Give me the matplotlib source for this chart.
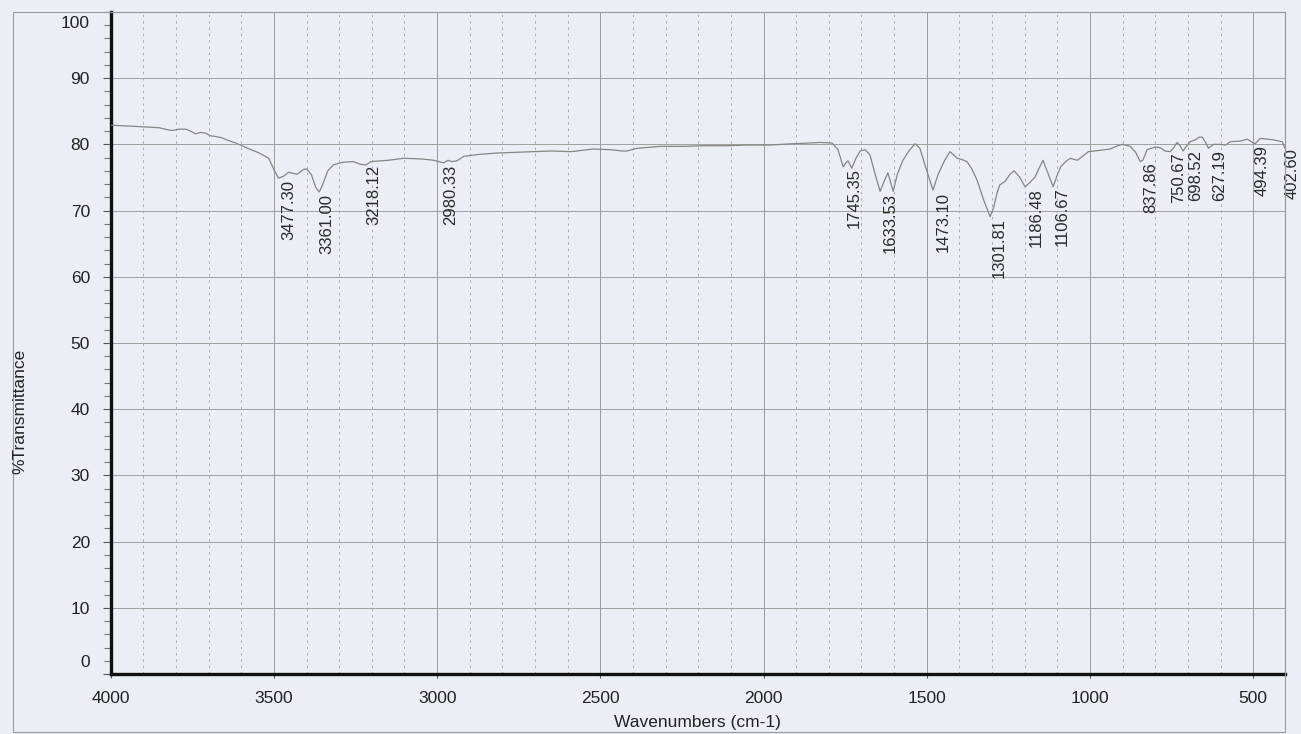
import matplotlib

matplotlib.use('Agg')
import matplotlib.pyplot as plt
from matplotlib.transforms import ScaledTranslation
from matplotlib.patches import Rectangle

plt.rcParams['font.family'] = ['Liberation Sans', 'DejaVu Sans']

# spectrum (wavenumber cm-1, %T)
wavenumbers = [
    4000, 3960, 3914, 3880, 3850, 3825, 3810, 3790, 3770, 3755, 3740, 3725, 3709, 3695,
    3679, 3660, 3640, 3617, 3580, 3545, 3516, 3500, 3486, 3470, 3455, 3440, 3428, 3410,
    3400, 3385, 3372, 3361, 3350, 3335, 3318, 3290, 3257, 3235, 3218, 3203, 3150, 3102,
    3050, 3010, 2995, 2980, 2967, 2955, 2940, 2918, 2870, 2814, 2760, 2704, 2650, 2590,
    2522, 2470, 2432, 2418, 2395, 2388, 2317, 2250, 2180, 2112, 2050, 1980, 1910, 1860,
    1827, 1790, 1772, 1756, 1748, 1741, 1730, 1718, 1704, 1689, 1674, 1660, 1643, 1630,
    1619, 1612, 1603, 1590, 1573, 1555, 1536, 1521, 1505, 1481, 1465, 1445, 1429, 1415,
    1407, 1392, 1377, 1362, 1346, 1325, 1306, 1295, 1284, 1276, 1260, 1245, 1232, 1215,
    1199, 1185, 1168, 1155, 1144, 1130, 1113, 1100, 1090, 1075, 1060, 1039, 1020, 1005,
    970, 938, 915, 901, 877, 860, 846, 838, 825, 800, 785, 770, 755, 745, 733, 724, 715,
    705, 693, 677, 665, 656, 645, 637, 622, 601, 585, 570, 539, 518, 500, 494, 478, 440,
    411, 402.6,
]
transmittance = [
    82.9, 82.8, 82.7, 82.6, 82.5, 82.2, 82.1, 82.3, 82.3, 82.0, 81.6, 81.8, 81.7, 81.3,
    81.2, 81.0, 80.6, 80.2, 79.4, 78.7, 77.9, 76.2, 74.9, 75.2, 75.8, 75.6, 75.5, 76.2,
    76.3, 75.4, 73.5, 72.8, 74.0, 76.0, 76.9, 77.3, 77.4, 77.0, 76.9, 77.4, 77.6, 77.9,
    77.8, 77.6, 77.4, 77.2, 77.6, 77.4, 77.5, 78.2, 78.5, 78.7, 78.8, 78.9, 79.0, 78.9,
    79.3, 79.2, 79.0, 79.0, 79.3, 79.4, 79.7, 79.7, 79.8, 79.8, 79.9, 79.9, 80.1, 80.2,
    80.3, 80.2, 79.2, 76.6, 77.2, 77.5, 76.4, 77.8, 79.0, 79.2, 78.4, 75.8, 72.9, 74.5,
    75.7, 74.5, 72.9, 75.5, 77.6, 79.0, 80.1, 79.4, 76.8, 73.1, 75.5, 77.6, 78.9, 78.3,
    77.9, 77.7, 77.4, 76.3, 74.6, 71.5, 69.1, 70.5, 72.8, 73.9, 74.4, 75.5, 76.0, 75.0,
    73.6, 74.2, 75.1, 76.5, 77.6, 75.8, 73.6, 75.4, 76.6, 77.4, 77.9, 77.6, 78.3, 78.9,
    79.1, 79.3, 79.8, 80.0, 79.7, 78.8, 77.4, 77.6, 79.2, 79.6, 79.5, 79.0, 78.9, 79.4,
    80.3, 79.8, 79.0, 79.7, 80.4, 80.7, 81.1, 81.1, 80.2, 79.4, 80.0, 80.0, 79.9, 80.4,
    80.5, 80.8, 80.2, 80.1, 80.9, 80.7, 80.4, 79.4,
]

# peak picks and where their labels start
peak_wn = [3477.30, 3361.00, 3218.12, 2980.33, 1745.35, 1633.53, 1473.10, 1301.81,
           1186.48, 1106.67, 837.86, 750.67, 698.52, 627.19, 494.39, 402.60]
peak_label_y = [74.6, 72.5, 76.9, 76.9, 76.4, 72.7, 72.8, 68.9,
                73.4, 73.5, 77.3, 78.8, 79.1, 79.1, 79.9, 79.4]

x_major = [4000, 3500, 3000, 2500, 2000, 1500, 1000, 500]
x_minor = [w for w in range(3900, 400, -100) if w % 500 != 0]
y_major = [0, 10, 20, 30, 40, 50, 60, 70, 80, 90, 100]
y_minor = list(range(0, 101, 2))

paper = '#eceef6'
fig = plt.figure(figsize=(13.01, 7.34), dpi=100, facecolor=paper)
ax = fig.add_axes([0.0851, 0.0817, 0.9026, 0.902])
ax.set_facecolor(paper)

# outer frame of the printout
fig.patches.append(Rectangle((0.010, 0.003), 0.9777, 0.981, transform=fig.transFigure,
                             fill=False, edgecolor='#9a9a9a', linewidth=0.8))

for w in x_major:
    ax.axvline(w, color='#9a9a9a', linewidth=0.7, zorder=1)
for w in x_minor:
    ax.axvline(w, color='#a8a8a8', linewidth=0.7, linestyle=(0, (2.5, 4)), zorder=1)
for t in y_major[1:]:
    ax.axhline(t, color='#a0a0a0', linewidth=0.7, zorder=1)

ax.plot(wavenumbers, transmittance, color='#858585', linewidth=0.9, zorder=3)

for w, t in zip(peak_wn, peak_label_y):
    ax.text(w, t, f'{w:.2f}', rotation=90, ha='left', va='top', fontsize=12,
            color='#2a2a2a', clip_on=False, zorder=4)

ax.set_xlim(4000, 402.6)
ax.set_ylim(0, 100)
ax.set_xticks(x_major)
ax.set_yticks(y_major)
ax.set_yticks(y_minor, minor=True)

ax.spines['left'].set_linewidth(2.4)
ax.spines['bottom'].set_linewidth(2.4)
ax.spines['left'].set_color('#111111')
ax.spines['bottom'].set_color('#111111')
ax.spines['top'].set_color('#9a9a9a')
ax.spines['right'].set_color('#9a9a9a')
ax.spines['top'].set_linewidth(0.8)
ax.spines['right'].set_linewidth(0.8)

ax.tick_params(axis='y', which='major', length=6, width=0.8, color='#555555',
               labelsize=12.5, pad=9, labelcolor='#222222')
ax.tick_params(axis='y', which='minor', length=5, width=0.8, color='#777777')
ax.tick_params(axis='x', which='major', length=3, width=0.8, color='#555555',
               labelsize=12.5, pad=9, labelcolor='#222222')

# the end labels sit inside the axis range on the printout
for lab in ax.get_yticklabels():
    if lab.get_text() == '0':
        lab.set_transform(lab.get_transform() + ScaledTranslation(0, 0.126, fig.dpi_scale_trans))
    elif lab.get_text() == '100':
        lab.set_transform(lab.get_transform() + ScaledTranslation(0, -0.10, fig.dpi_scale_trans))

fig.text(0.5363, 0.015, 'Wavenumbers (cm-1)', ha='center', va='center', fontsize=12.5,
         color='#222222')
fig.text(0.0155, 0.439, '%Transmittance', rotation=90, ha='center', va='center',
         fontsize=12.5, color='#222222')

fig.savefig('out.png', dpi=100, facecolor=paper)
